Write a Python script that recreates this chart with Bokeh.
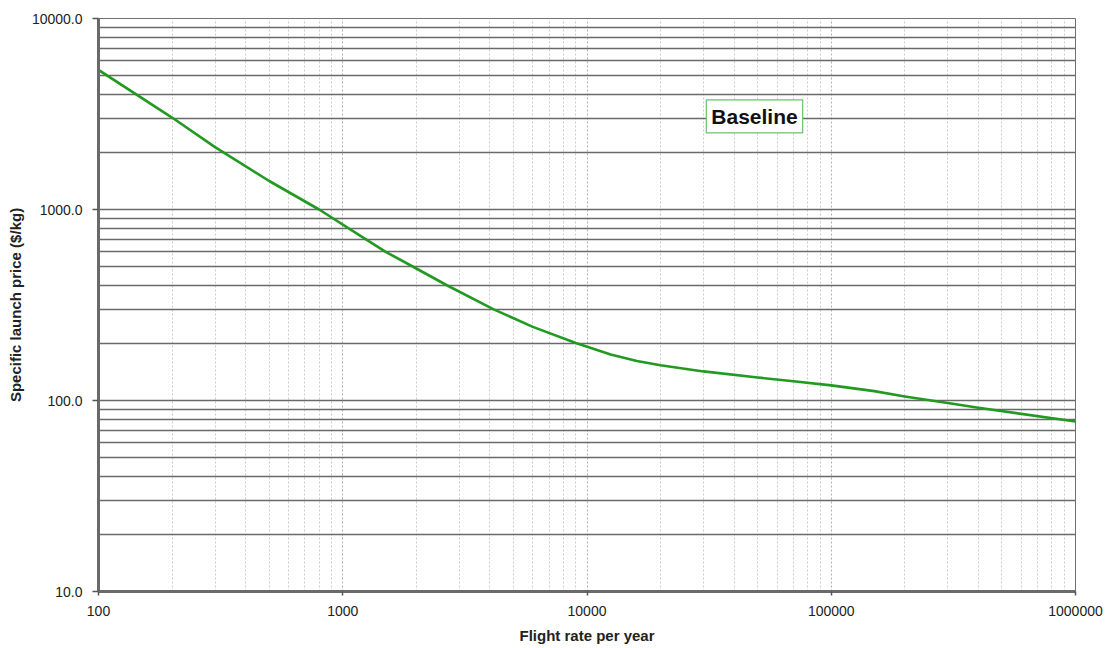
from bokeh.plotting import figure
from bokeh.models import FixedTicker, PrintfTickFormatter, Label, ColumnDataSource, Range1d
from bokeh.embed import file_html
from bokeh.resources import INLINE

# ---- data ----
flight_rate = [100, 200, 300, 500, 800, 1240, 1500, 1950, 2680, 4150, 6000,
               9000, 12500, 16000, 20000, 30000, 50000, 70000, 100000, 150000,
               200000, 300000, 400000, 1000000]
price = [5380, 3030, 2120, 1410, 1000, 700, 600, 500, 400, 300, 243,
         200, 174, 161, 153, 142, 132, 126, 120, 112,
         105, 97, 91.6, 77.6]

x_major = [100, 1000, 10000, 100000, 1000000]
y_major = [10, 100, 1000, 10000]
x_minor = [m * 10 ** e for e in range(2, 6) for m in range(2, 10)]
y_minor = [m * 10 ** e for e in range(1, 4) for m in range(2, 10)]

series_name = "Baseline"
label_x = 48500
label_y = 3072
x_title = "Flight rate per year"
y_title = "Specific launch price ($/kg)"

FONT = "Liberation Sans"

p = figure(width=1108, height=648,
           x_axis_type="log", y_axis_type="log",
           x_range=Range1d(100, 1000000), y_range=Range1d(10, 10000),
           output_backend="svg", toolbar_location=None,
           min_border_left=98, min_border_top=18,
           min_border_right=33, min_border_bottom=57)

p.background_fill_color = "white"
p.border_fill_color = "white"
p.outline_line_color = "#707070"
p.outline_line_width = 1

# tickers
p.xaxis.ticker = FixedTicker(ticks=x_major, minor_ticks=x_minor)
p.yaxis.ticker = FixedTicker(ticks=y_major, minor_ticks=y_minor)
p.xaxis.formatter = PrintfTickFormatter(format="%d")
p.yaxis.formatter = PrintfTickFormatter(format="%.1f")

# grids
p.ygrid.grid_line_color = "#6a6a6a"
p.ygrid.grid_line_width = 1.6
p.ygrid.minor_grid_line_color = "#6a6a6a"
p.ygrid.minor_grid_line_width = 1.6
p.xgrid.grid_line_color = "#b0b0b0"
p.xgrid.grid_line_width = 1
p.xgrid.grid_line_dash = "2 2"
p.xgrid.minor_grid_line_color = "#cccccc"
p.xgrid.minor_grid_line_width = 1
p.xgrid.minor_grid_line_dash = "2 2"

# axes
for ax in (p.xaxis[0], p.yaxis[0]):
    ax.axis_line_color = "#6a6a6a"
    ax.axis_line_width = 3
    ax.major_tick_line_color = "#555555"
    ax.major_tick_line_width = 1.5
    ax.major_tick_in = 0
    ax.minor_tick_in = 0
    ax.minor_tick_out = 0
    ax.major_label_text_font = FONT
    ax.major_label_text_font_size = "14px"
    ax.major_label_text_color = "#222222"
    ax.axis_label_text_font = FONT
    ax.axis_label_text_font_style = "bold"
    ax.axis_label_text_font_size = "15px"
    ax.axis_label_text_color = "#222222"

p.xaxis.major_tick_out = 4
p.xaxis.major_label_standoff = 10
p.xaxis.axis_label = x_title
p.xaxis.axis_label_standoff = 8

p.yaxis.major_tick_out = 6
p.yaxis.major_label_standoff = 10
p.yaxis.axis_label = y_title
p.yaxis.axis_label_standoff = 5

src = ColumnDataSource(dict(x=flight_rate, y=price))
p.line("x", "y", source=src, line_color="#229a22", line_width=2.6,
       line_join="round")

lab = Label(x=label_x, y=label_y, text=series_name,
            text_align="center", text_baseline="middle",
            text_font=FONT, text_font_style="bold", text_font_size="21px",
            text_color="#111111",
            border_line_color="#6cc06c", border_line_width=1.2,
            background_fill_color="white", padding=5)
p.add_layout(lab)

open("out.html", "w").write(file_html(p, INLINE))
